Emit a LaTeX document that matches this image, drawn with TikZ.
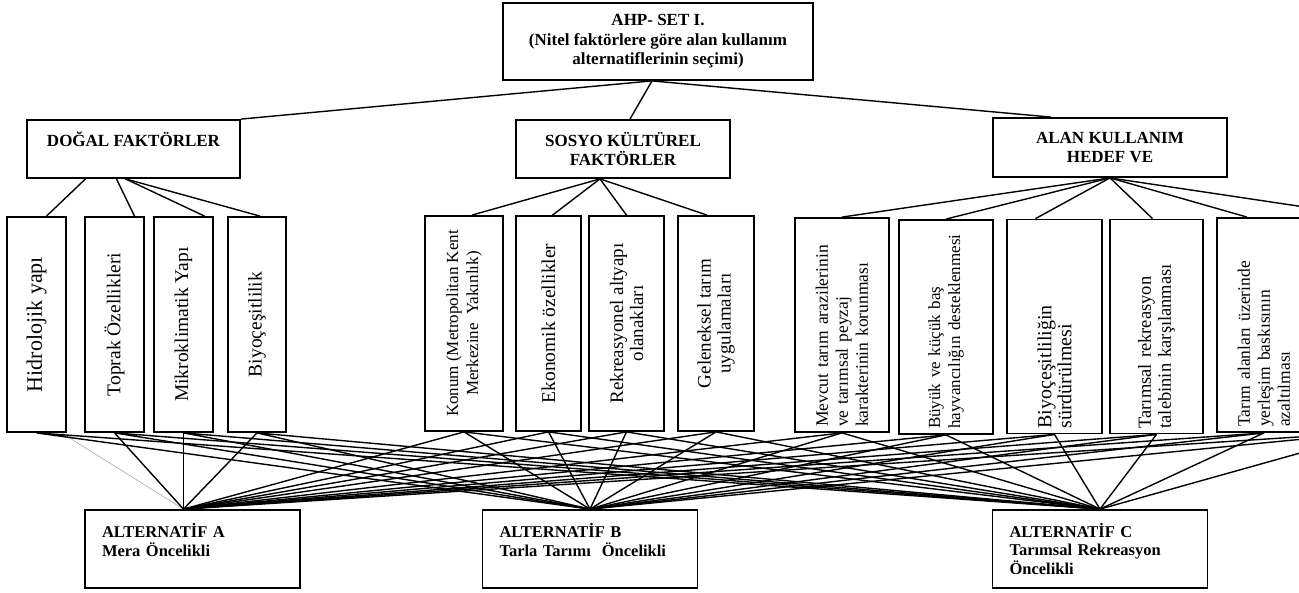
\documentclass[tikz,border=0pt]{standalone}
\usepackage{fontspec}
\setmainfont{Liberation Serif}
\usepackage{tikz}
\hyphenpenalty=10000
\exhyphenpenalty=10000
\tikzstyle{head}=[draw, line width=1.8pt, fill=white, align=center, inner sep=4pt, font=\bfseries\fontsize{17}{19.5}\selectfont]
\tikzstyle{leaf}=[draw, line width=1.8pt, fill=white, rotate=90, minimum width=215pt, align=center, inner sep=4pt, font=\fontsize{19.5}{20.5}\selectfont]
\tikzstyle{goal}=[draw, line width=1.8pt, fill=white, rotate=90, minimum width=214pt, minimum height=94pt, text width=204pt, inner xsep=5pt, align=left, font=\fontsize{17.5}{20}\selectfont]
\tikzstyle{alt}=[draw, line width=1.8pt, fill=white, minimum height=78pt, text width=181pt, inner xsep=17pt, align=left, font=\bfseries\fontsize{16.5}{18.5}\selectfont]
\tikzstyle{link}=[line width=1.4pt]

\begin{document}
\begin{tikzpicture}[x=1pt, y=1pt]
				\useasboundingbox (0,0) rectangle (1299,592);
				% goal
				\node[head, minimum width=310pt, minimum height=77pt] (ahp) at (658,550.5) {AHP- SET I.\\(Nitel faktörlere göre alan kullanım\\alternatiflerinin seçimi)};
				% criteria
				\node[head, minimum width=213pt, minimum height=58pt] (dogal) at (133.5,443) {DOĞAL FAKTÖRLER\\~};
				\node[head, minimum width=214pt, minimum height=58pt] (sosyo) at (623,443) {SOSYO KÜLTÜREL\\FAKTÖRLER};
				\node[head, minimum width=234pt, minimum height=59pt] (alan) at (1110,444.5) {ALAN KULLANIM\\HEDEF VE};
				% sub criteria
				\node[leaf, minimum height=59pt, font=\fontsize{22}{22}\selectfont] (hid) at (36.5,267.5) {Hidrolojik yapı};
				\node[leaf, minimum height=59pt] (tpk) at (114.5,267.5) {Toprak Özellikleri};
				\node[leaf, minimum height=59pt] (mik) at (183.5,267.5) {Mikroklimatik Yapı};
				\node[leaf, minimum height=58pt] (biy) at (257,267.5) {Biyoçeşitlilik};
				\node[leaf, minimum height=78pt, font=\fontsize{17}{20}\selectfont] (kon) at (464,268.5) {Konum (Metropolitan Kent\\Merkezine\ \ Yakınlık)};
				\node[leaf, minimum height=65pt] (eko) at (548.5,268.5) {Ekonomik özellikler};
				\node[leaf, minimum height=75pt, font=\fontsize{19}{20}\selectfont] (rek) at (626.5,268.5) {Rekreasyonel altyapı\\olanakları};
				\node[leaf, minimum height=76pt, font=\fontsize{19}{20}\selectfont] (gel) at (716,268.5) {Geleneksel tarım\\uygulamaları};
				\node[goal] (mev) at (842,267) {Mevcut tarım arazilerinin\\ve tarımsal peyzaj\\karakterinin korunması};
				\node[goal, font=\fontsize{17}{20}\selectfont] (buy) at (946,265) {Büyük ve küçük baş\\hayvancılığın desteklenmesi};
				\node[goal, minimum height=95pt, font=\fontsize{20}{20}\selectfont] (bic) at (1054.5,265.5) {Biyoçeşitliliğin\\sürdürülmesi};
				\node[goal, minimum height=93pt, font=\fontsize{18.5}{20}\selectfont] (tar) at (1156.5,265.5) {Tarımsal rekreasyon\\talebinin karşılanması};
				\node[goal] (tal) at (1264,267) {Tarım alanları üzerinde\\yerleşim baskısının\\azaltılması};
				\coordinate (ext top) at (1378,374);
				\coordinate (ext bot) at (1375,160);
				% alternatives
				\node[alt] (altA) at (192.5,43) {ALTERNATİF A\\Mera Öncelikli\\~};
				\node[alt] (altB) at (590,43) {ALTERNATİF B\\Tarla Tarımı\ \ Öncelikli\\~};
				\node[alt] (altC) at (1100,43) {ALTERNATİF C\\Tarımsal Rekreasyon\\Öncelikli};
				\coordinate (pA) at ([xshift=-9pt]altA.north);
				% links
				\draw[link] ([xshift=-6pt]ahp.south) -- (dogal.north east);
				\draw[link] ([xshift=-6pt]ahp.south) -- ([xshift=7pt]sosyo.north);
				\draw[link] ([xshift=-6pt]ahp.south) -- ([xshift=-59pt]alan.north);
				\draw[link] ([xshift=-48pt]dogal.south) -- ([xshift=10pt]hid.east);
				\draw[link] ([xshift=-17pt]dogal.south) -- ([xshift=20pt]tpk.east);
				\draw[link] ([xshift=-8pt]dogal.south) -- ([xshift=21pt]mik.east);
				\draw[link] ([xshift=-8pt]dogal.south) -- ([xshift=3pt]biy.east);
				\draw[link] ([xshift=-23pt]sosyo.south) -- ([xshift=8pt]kon.east);
				\draw[link] ([xshift=-23pt]sosyo.south) -- ([xshift=4pt]eko.east);
				\draw[link] ([xshift=-23pt]sosyo.south) -- (rek.east);
				\draw[link] ([xshift=-23pt]sosyo.south) -- ([xshift=-9pt]gel.east);
				\draw[link] (alan.south) -- (mev.east);
				\draw[link] (alan.south) -- (buy.east);
				\draw[link] (alan.south) -- ([xshift=-19pt]bic.east);
				\draw[link] (alan.south) -- ([xshift=-4pt]tar.east);
				\draw[link] (alan.south) -- ([xshift=-17pt]tal.east);
				\draw[link] (alan.south) -- (ext top);
				\draw[gray!70, line width=0.6pt] ([xshift=25pt]hid.west) -- (pA);
				\foreach \n in {tpk,mik,biy,kon,eko,rek,gel,mev,buy,bic,tar,tal}
					\draw[link] (\n.west) -- (pA);
				\foreach \n in {hid,tpk,mik,biy,kon,eko,rek,gel,mev,buy,bic,tar,tal}
					\draw[link] (\n.west) -- (altB.north) (\n.west) -- (altC.north);
				\draw[link] (ext bot) -- (pA) (ext bot) -- (altB.north) (ext bot) -- (altC.north);
			\end{tikzpicture}
\end{document}
